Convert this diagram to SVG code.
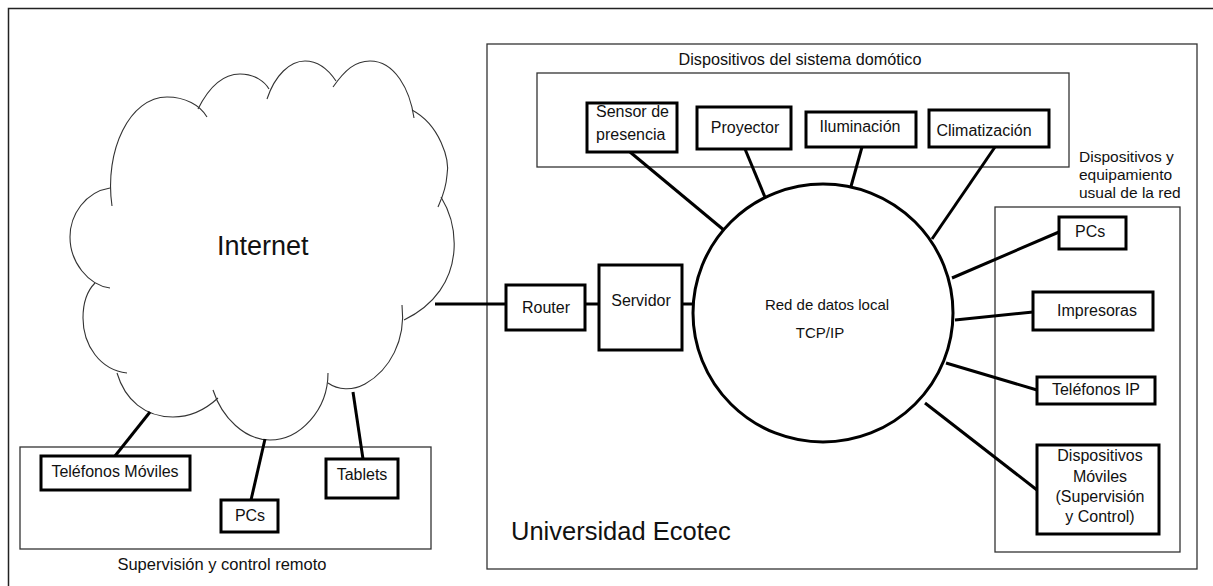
<svg xmlns="http://www.w3.org/2000/svg" width="1213" height="586" viewBox="0 0 1213 586">
<style>
text{font-family:"Liberation Sans",Arial,sans-serif;fill:#111;font-size:16px}
.node{fill:#fff;stroke:#000;stroke-width:3}
.grp{fill:none;stroke:#333;stroke-width:1.3}
.cloud{fill:none;stroke:#333;stroke-width:1.1}
.conn{stroke:#000;stroke-width:3;fill:none}
.c{text-anchor:middle}
</style>
<rect width="1213" height="586" fill="#fff"/>
<path d="M8.5,586 V8.5 H1213" fill="none" stroke="#222" stroke-width="1.5"/>

<g id="groups">
<rect class="grp" x="487" y="44" width="710" height="525"/>
<rect class="grp" x="537" y="73" width="532" height="94"/>
<rect class="grp" x="995" y="207" width="185" height="345"/>
<rect class="grp" x="20" y="447" width="411" height="102"/>
<text x="800" y="65" class="c" style="font-size:16.2px">Dispositivos del sistema domótico</text>
<text x="1079" y="162" style="font-size:15.5px">Dispositivos y</text>
<text x="1079" y="180" style="font-size:15.5px">equipamiento</text>
<text x="1079" y="198" style="font-size:15.5px">usual de la red</text>
<text x="222" y="570" class="c" style="font-size:16.5px">Supervisión y control remoto</text>
<text x="511" y="540" style="font-size:25.5px">Universidad Ecotec</text>
</g>

<g id="internet">
<path class="cloud" d="M112,206 C104,150 130,97 167,97 C185,97 200,105 207,117"/>
<path class="cloud" d="M198,109 C210,85 225,74 240,74 C255,74 265,82 269,89"/>
<path class="cloud" d="M267,99 C275,75 290,61 305,61 C320,61 330,72 336,81"/>
<path class="cloud" d="M333,87 C345,70 355,61 370,61 C395,61 410,90 414,118"/>
<path class="cloud" d="M412,110 C440,125 450,160 447,175 C446,190 441,200 438,207"/>
<path class="cloud" d="M441,197 C452,215 455,235 454,250 C452,280 435,305 404,320"/>
<path class="cloud" d="M402,305 C406,340 390,370 365,384 C352,391 338,390 328,383"/>
<path class="cloud" d="M328,373 C328,410 300,440 270,440 C245,440 222,418 213,390"/>
<path class="cloud" d="M218,398 C205,410 190,417 173,417 C145,417 125,400 117,373"/>
<path class="cloud" d="M127,373 C100,370 83,345 83,318 C83,300 88,290 95,283"/>
<path class="cloud" d="M110,188 C85,192 70,215 70,237 C70,262 88,285 110,288"/>
<text x="217" y="255" style="font-size:27px">Internet</text>
</g>

<g id="connectors">
<line class="conn" x1="435" y1="304" x2="506" y2="304"/>
<line class="conn" x1="585" y1="304" x2="599" y2="304"/>
<line class="conn" x1="682" y1="304" x2="693" y2="304"/>
<line class="conn" x1="630" y1="152" x2="725" y2="231"/>
<line class="conn" x1="745" y1="149" x2="767" y2="202"/>
<line class="conn" x1="862" y1="147" x2="850" y2="190"/>
<line class="conn" x1="995" y1="147" x2="932" y2="239"/>
<line class="conn" x1="1059" y1="232" x2="952" y2="278"/>
<line class="conn" x1="1033" y1="312" x2="955" y2="320"/>
<line class="conn" x1="946" y1="363" x2="1037" y2="390"/>
<line class="conn" x1="925" y1="403" x2="1037" y2="490"/>
<line class="conn" x1="150" y1="412" x2="115" y2="456"/>
<line class="conn" x1="265" y1="439" x2="251" y2="500"/>
<line class="conn" x1="353" y1="392" x2="363" y2="459"/>
</g>

<g id="red-local">
<ellipse class="node" cx="823" cy="313" rx="130" ry="129"/>
<text x="827" y="310" class="c" style="font-size:15px">Red de datos local</text>
<text x="820" y="338" class="c" style="font-size:15px">TCP/IP</text>
</g>
<g id="router"><rect class="node" x="506" y="285" width="79" height="45"/><text x="546" y="313" class="c">Router</text></g>
<g id="servidor"><rect class="node" x="599" y="265" width="83" height="85"/><text x="641" y="306" class="c">Servidor</text></g>
<g id="sensor"><rect class="node" x="587" y="103" width="90" height="49"/><text x="596" y="117">Sensor de</text><text x="596" y="140">presencia</text></g>
<g id="proyector"><rect class="node" x="697" y="107" width="94" height="42"/><text x="745" y="133" class="c">Proyector</text></g>
<g id="iluminacion"><rect class="node" x="806" y="112" width="110" height="35"/><text x="860" y="132" class="c">Iluminación</text></g>
<g id="climatizacion"><rect class="node" x="929" y="110" width="120" height="37"/><text x="984" y="136" class="c">Climatización</text></g>
<g id="pcs-red"><rect class="node" x="1059" y="217" width="67" height="32"/><text x="1075" y="237">PCs</text></g>
<g id="impresoras"><rect class="node" x="1033" y="292" width="120" height="38"/><text x="1097" y="316" class="c">Impresoras</text></g>
<g id="telefonos-ip"><rect class="node" x="1037" y="377" width="118" height="27"/><text x="1096" y="395" class="c">Teléfonos IP</text></g>
<g id="moviles"><rect class="node" x="1037" y="445" width="122" height="89"/>
<text x="1100" y="461" class="c">Dispositivos</text><text x="1100" y="482" class="c">Móviles</text><text x="1100" y="502" class="c">(Supervisión</text><text x="1100" y="522" class="c">y Control)</text></g>
<g id="telefonos-moviles"><rect class="node" x="41" y="456" width="149" height="34"/><text x="115" y="477" class="c">Teléfonos Móviles</text></g>
<g id="pcs-remoto"><rect class="node" x="221" y="500" width="57" height="32"/><text x="250" y="521" class="c">PCs</text></g>
<g id="tablets"><rect class="node" x="326" y="459" width="72" height="39"/><text x="362" y="480" class="c">Tablets</text></g>
</svg>
